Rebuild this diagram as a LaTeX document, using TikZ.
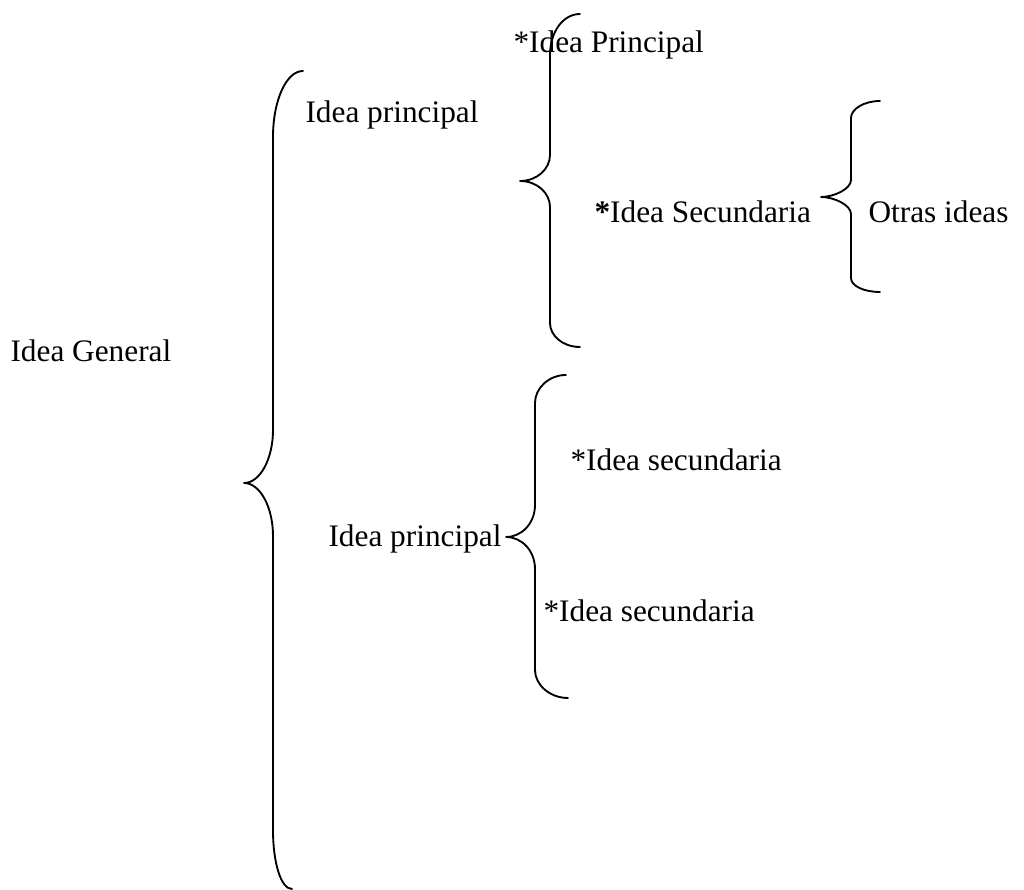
\documentclass[tikz,border=0pt]{standalone}
\usepackage{fontspec}
\setmainfont{Liberation Serif}
\usepackage{tikz}
\usetikzlibrary{positioning}

\begin{document}
\begin{tikzpicture}[x=0.375pt, y=-0.375pt]

% TikZ styles
\tikzset{
  idea/.style={inner sep=0pt, anchor=base west, font=\fontsize{11.74}{14}\selectfont},
  llave/.style={line width=0.7pt, line cap=round, line join=round}
};

\useasboundingbox (0,0) rectangle (1024,890);

%==========================
% Texte
%==========================
\node[idea] (general)     at (10,362)  {Idea General};
\node[idea] (principalA)  at (305,123) {Idea principal};
\node[idea] (ideaP)       at (513,53)  {*Idea Principal};
\node[idea] (secundariaS) at (594,223) {\textbf{*}Idea Secundaria};
\node[idea] (otras)       at (868,223) {Otras ideas};
\node[idea] (secundariaA) at (570,471) {*Idea secundaria};
\node[idea] (principalB)  at (328,547) {Idea principal};
\node[idea] (secundariaB) at (543,622) {*Idea secundaria};

%==========================
% Llaves
%==========================
% grosse Klammer
\draw[llave] (303,71) .. controls (286,71) and (273,101) .. (273,137) -- (273,430)
  .. controls (273,459) and (260,483) .. (244,483)
  .. controls (260,483) and (273,507) .. (273,536) -- (273,830)
  .. controls (273,863) and (281,889) .. (292,889);

% Klammer oben
\draw[llave] (580,14) .. controls (563,14) and (550,32) .. (550,55) -- (550,155)
  .. controls (550,169) and (537,181) .. (520,181)
  .. controls (537,181) and (550,193) .. (550,207) -- (550,323)
  .. controls (550,336) and (563,347) .. (580,347);

% Klammer unten
\draw[llave] (566,375) .. controls (549,375) and (535,388) .. (535,403) -- (535,505)
  .. controls (535,523) and (522,537) .. (506,537)
  .. controls (522,537) and (535,551) .. (535,569) -- (535,670)
  .. controls (535,685) and (550,698) .. (568,698);

% kleine Klammer
\draw[llave] (880,101) .. controls (864,101) and (851,109) .. (851,118) -- (851,180)
  .. controls (851,189) and (834,197) .. (821,197)
  .. controls (834,197) and (851,205) .. (851,214) -- (851,278)
  .. controls (851,286) and (864,292) .. (880,292);

\end{tikzpicture}
\end{document}
